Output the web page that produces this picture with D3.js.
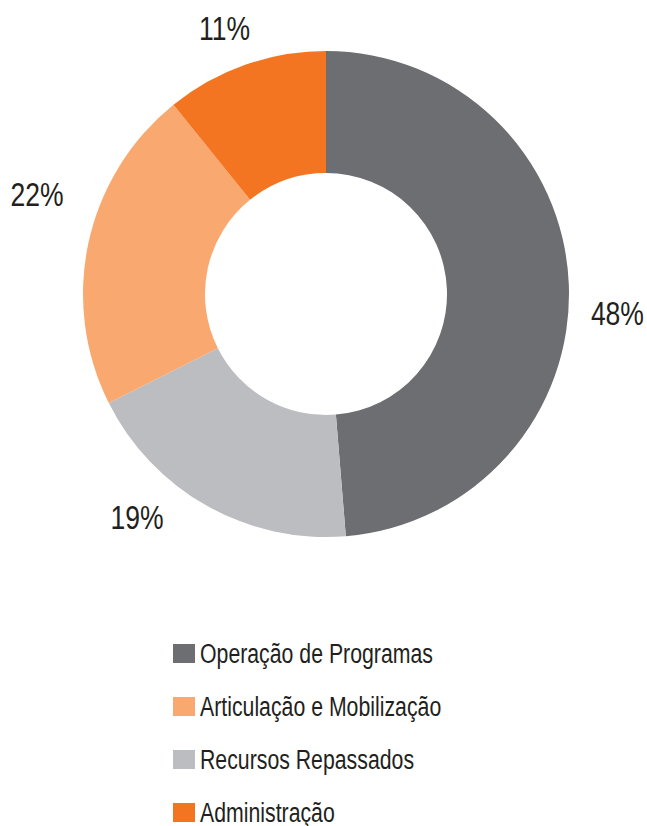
<!DOCTYPE html>
<html>
<head>
<meta charset="utf-8">
<script src="https://cdn.jsdelivr.net/npm/d3@7"></script>
<style>
  html, body { margin: 0; padding: 0; background: #ffffff; }
  svg { display: block; }
  text { font-family: "Liberation Sans", "Arial", sans-serif; fill: #231f20; }
</style>
</head>
<body>
<svg id="chart" width="647" height="826"></svg>
<script>
// Slices in drawing order (clockwise from 12 o'clock)
const sliceNames = ["Operação de Programas", "Recursos Repassados", "Articulação e Mobilização", "Administração"];
const sliceValues = [48.7, 18.9, 21.6, 10.8];
const sliceLabels = ["48%", "19%", "22%", "11%"];
const sliceColors = ["#6d6e71", "#bcbdc0", "#f9a870", "#f47521"];

// Legend order
const legendNames = ["Operação de Programas", "Articulação e Mobilização", "Recursos Repassados", "Administração"];

// Label placement tweaks (layout only): angle offset from slice centroid (deg), radius
const labelAngleNudge = [6, 11, 7, -1.4];
const labelRadius = [292, 292, 306, 285];

const svg = d3.select("#chart");
const cx = 326, cy = 294, outerR = 243, innerR = 121;

const color = d3.scaleOrdinal().domain(sliceNames).range(sliceColors);

const pie = d3.pie().sort(null).value(d => d.value);
const data = sliceNames.map((n, i) => ({ name: n, value: sliceValues[i], label: sliceLabels[i] }));
const arcs = pie(data);

const arc = d3.arc().innerRadius(innerR).outerRadius(outerR);

const g = svg.append("g").attr("transform", `translate(${cx},${cy})`);
g.selectAll("path.slice")
  .data(arcs)
  .join("path")
  .attr("class", "slice")
  .attr("d", arc)
  .attr("fill", d => color(d.data.name));

// Percentage labels outside the ring
function labelPos(d, i) {
  const a = (d.startAngle + d.endAngle) / 2 + labelAngleNudge[i] * Math.PI / 180;
  const r = labelRadius[i];
  return [r * Math.sin(a), -r * Math.cos(a) + 12.5];
}
g.selectAll("text.pct")
  .data(arcs)
  .join("text")
  .attr("class", "pct")
  .attr("text-anchor", "middle")
  .attr("font-size", 34)
  .attr("transform", (d, i) => { const p = labelPos(d, i); return `translate(${p[0]},${p[1]}) scale(0.78,1)`; })
  .text(d => d.data.label);

// Legend
const legendY = d3.scalePoint().domain(legendNames).range([663, 822]);
const leg = svg.append("g");
const rows = leg.selectAll("g.row").data(legendNames).join("g").attr("class", "row");
rows.append("rect")
  .attr("x", 173)
  .attr("y", d => legendY(d) - 19)
  .attr("width", 22)
  .attr("height", 19)
  .attr("fill", d => color(d));
rows.append("text")
  .attr("transform", d => `translate(200,${legendY(d)}) scale(0.76,1)`)
  .attr("font-size", 28)
  .text(d => d);
</script>
</body>
</html>
